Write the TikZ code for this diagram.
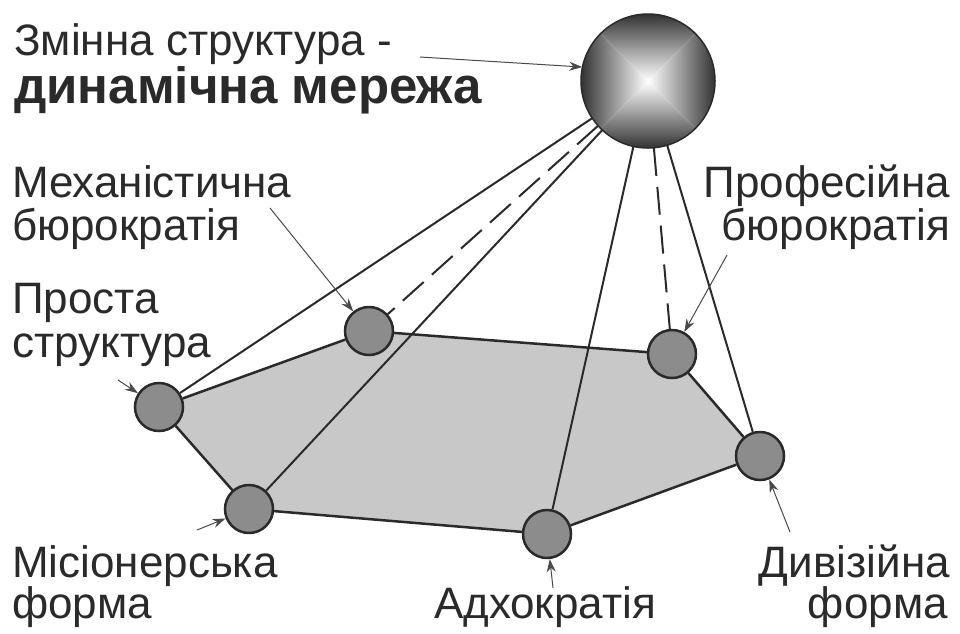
\documentclass[tikz,border=0pt]{standalone}
\usepackage{fontspec}
\setmainfont{Liberation Sans}
\usetikzlibrary{backgrounds,arrows.meta}
\definecolor{ink}{HTML}{2A2A2A}
\definecolor{nodegray}{HTML}{8C8C8C}
\definecolor{polygray}{HTML}{C8C8C8}
\definecolor{sphdark}{HTML}{333333}
\begin{document}
\begin{tikzpicture}[x=1pt,y=-1pt,
  org/.style={circle, minimum size=48pt, inner sep=0pt, fill=nodegray, draw=ink, line width=2.5pt},
  edge/.style={draw=ink, line width=2.5pt},
  ray/.style={draw=ink, line width=2pt},
  dashray/.style={ray, dash pattern=on 28pt off 11pt},
  pointer/.style={draw=ink!85, line width=1pt, -{Stealth[length=13pt,width=9pt]}},
  lbl/.style={inner sep=0pt, text=ink, font=\fontsize{44}{48}\selectfont}
]
\useasboundingbox (0,0) rectangle (960,633);

% organisation nodes
\node[org] (P)  at (159,407) {};
\node[org] (M)  at (369,331) {};
\node[org] (Pr) at (672,354) {};
\node[org] (D)  at (760,456) {};
\node[org] (A)  at (547,534) {};
\node[org] (Mi) at (249,509) {};

% sphere
\node[circle, minimum size=134pt, inner sep=0pt] (S) at (648,81) {};
\begin{scope}
  \clip (648,81) circle (67pt);
  \shade[top color=sphdark, bottom color=white] (581,14) -- (715,14) -- (648,81) -- cycle;
  \shade[top color=white, bottom color=sphdark] (581,148) -- (715,148) -- (648,81) -- cycle;
  \shade[left color=sphdark, right color=white] (581,14) -- (581,148) -- (648,81) -- cycle;
  \shade[left color=white, right color=sphdark] (715,14) -- (715,148) -- (648,81) -- cycle;
\end{scope}
\draw[ink, line width=1.5pt] (648,81) circle (67pt);

\begin{scope}[on background layer]
  \fill[polygray] (P.center) -- (M.center) -- (Pr.center) -- (D.center) -- (A.center) -- (Mi.center) -- cycle;
  \draw[edge] (P) -- (M);
  \draw[edge] (M) -- (Pr);
  \draw[edge] (Pr) -- (D);
  \draw[edge] (D) -- (A);
  \draw[edge] (A) -- (Mi);
  \draw[edge] (Mi) -- (P);
  \draw[ray] (S) -- (P);
  \draw[dashray] (S) -- (M);
  \draw[ray] (S) -- (Mi);
  \draw[ray] (S) -- (A);
  \draw[dashray] (S) -- (Pr);
  \draw[ray] (S) -- (D);
\end{scope}

% labels
\node[lbl, anchor=base west] (tS1) at (14,55) {Змінна структура -};
\node[lbl, anchor=base west, font=\fontsize{51}{56}\selectfont\bfseries] (tS2) at (14,103) {динамічна мережа};
\node[lbl, anchor=base west] (tM1) at (12,197) {Механістична};
\node[lbl, anchor=base west] (tM2) at (12,240) {бюрократія};
\node[lbl, anchor=base west] (tP1) at (12,313) {Проста};
\node[lbl, anchor=base west] (tP2) at (12,357) {структура};
\node[lbl, anchor=base east] (tPr1) at (950,197) {Професійна};
\node[lbl, anchor=base east] (tPr2) at (950,240) {бюрократія};
\node[lbl, anchor=base west] (tMi1) at (12,577) {Місіонерська};
\node[lbl, anchor=base west] (tMi2) at (12,618) {форма};
\node[lbl, anchor=base] (tA) at (545,618) {Адхократія};
\node[lbl, anchor=base east] (tD1) at (950,577) {Дивізійна};
\node[lbl, anchor=base east] (tD2) at (948,618) {форма};

% pointers
\coordinate (aS) at (420,57);
\coordinate (aM) at (270,208);
\coordinate (aP) at (118,380);
\coordinate (aPr) at (727,255);
\coordinate (aMi) at (197,530);
\coordinate (aA) at (553,588);
\coordinate (aD) at (790,532);
\draw[pointer] (aS) -- (S.168);
\draw[pointer] (aM) -- (M);
\draw[pointer] (aP) -- (P);
\draw[pointer] (aPr) -- (Pr);
\draw[pointer] (aMi) -- (Mi);
\draw[pointer] (aA) -- (A);
\draw[pointer] (aD) -- (D);
\end{tikzpicture}
\end{document}
